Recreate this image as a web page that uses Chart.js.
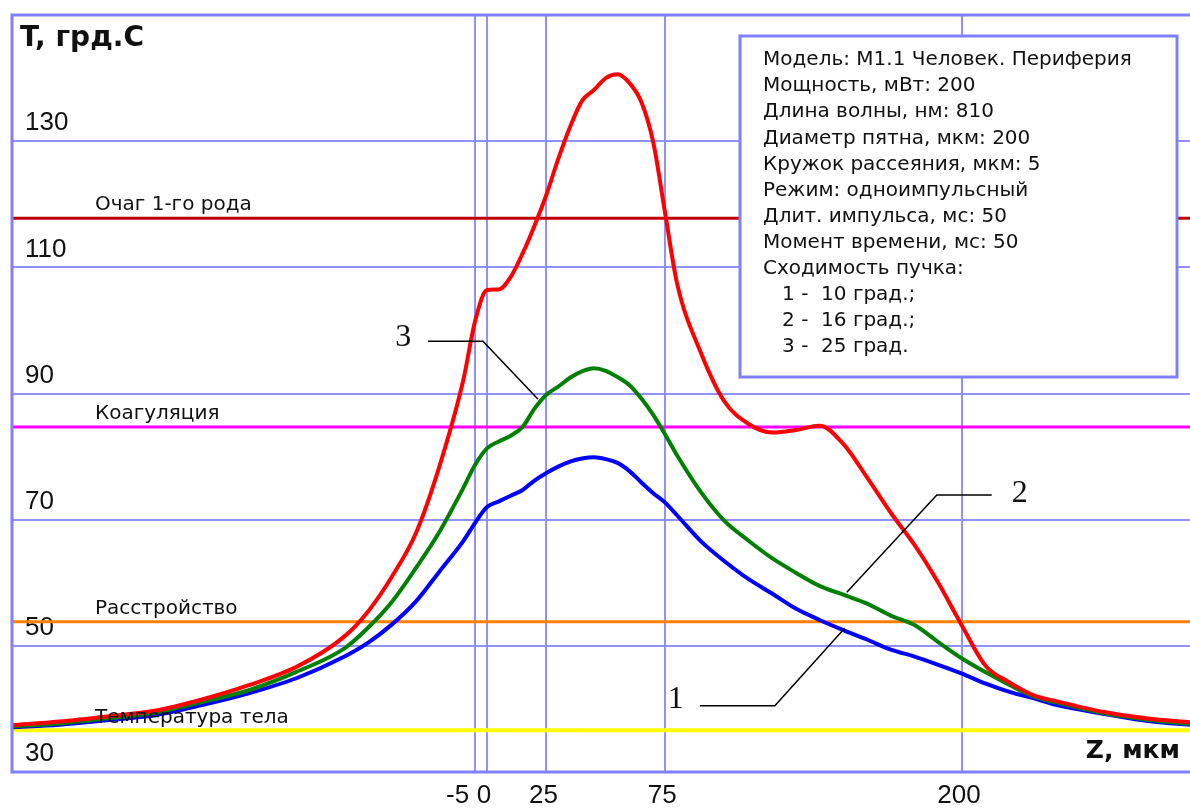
<!DOCTYPE html>
<html lang="ru">
<head>
<meta charset="utf-8">
<title>T, грд.С</title>
<script src="https://cdn.jsdelivr.net/npm/chart.js"></script>
<style>
  html, body { margin:0; padding:0; background:#fff; }
  #wrap { width:1190px; height:808px; position:relative; }
</style>
</head>
<body>
<div id="wrap"><canvas id="chart"></canvas></div>
<script>
const zValues = [-200, -180, -160, -140, -120, -100, -80, -60, -50, -40,
  -30, -20, -10, -5, 0, 5, 10, 15, 20, 25,
  30, 35, 40, 45, 50, 55, 60, 65, 70, 75,
  80, 90, 100, 110, 120, 130, 140, 150, 160, 170,
  180, 190, 200, 210, 220, 230, 240, 260, 280, 296];

// 1 - 10 град.
const tCurve1 = [37.1, 37.5, 38.2, 39.0, 40.6, 42.5, 44.9, 48.3, 50.5, 53.4,
  57.0, 61.8, 66.6, 69.5, 72.0, 72.9, 73.8, 74.7, 76.2, 77.4,
  78.4, 79.2, 79.7, 79.9, 79.6, 79.0, 77.7, 75.9, 74.2, 72.7,
  70.7, 66.6, 63.4, 60.6, 58.3, 55.9, 54.1, 52.5, 51.0, 49.4,
  48.3, 47.0, 45.6, 44.0, 42.7, 41.7, 40.6, 39.2, 38.0, 37.5];

// 2 - 16 град.
const tCurve2 = [37.2, 37.7, 38.5, 39.4, 41.1, 43.0, 45.9, 49.6, 52.9, 57.0,
  62.3, 68.1, 75.0, 78.7, 81.3, 82.4, 83.3, 84.7, 87.6, 89.8,
  91.1, 92.5, 93.5, 94.0, 93.6, 92.6, 91.3, 89.2, 86.6, 83.5,
  80.2, 74.4, 69.8, 66.7, 63.9, 61.6, 59.5, 58.1, 56.7, 54.8,
  53.3, 50.6, 48.0, 45.8, 43.8, 42.0, 41.0, 39.3, 38.2, 37.6];

// 3 - 25 град.
const tCurve3 = [37.4, 38.0, 38.8, 39.7, 41.5, 43.8, 46.7, 51.5, 55.5, 61.0,
  67.8, 78.5, 92.1, 101.5, 106.4, 106.5, 108.5, 112.2, 116.6, 121.5,
  127.2, 132.3, 136.4, 138.1, 140.0, 140.6, 139.2, 136.2, 129.8, 118.6,
  107.5, 96.5, 88.7, 85.2, 83.8, 84.2, 84.9, 82.0, 76.7, 71.1,
  66.0, 60.0, 53.2, 46.8, 44.2, 42.2, 41.2, 39.5, 38.4, 37.9];

const xTicks = [-5, 0, 25, 75, 200];
const yTicks = [30, 50, 70, 90, 110, 130];

const levelNames  = ["Очаг 1-го рода", "Коагуляция", "Расстройство", "Температура тела"];
const levelValues = [117.8, 84.7, 53.8, 36.6];
const levelColors = ["#c00000", "#ff00ff", "#ff8000", "#ffff00"];

const infoLines = [
  "Модель: М1.1 Человек. Периферия",
  "Мощность, мВт: 200",
  "Длина волны, нм: 810",
  "Диаметр пятна, мкм: 200",
  "Кружок рассеяния, мкм: 5",
  "Режим: одноимпульсный",
  "Длит. импульса, мс: 50",
  "Момент времени, мс: 50",
  "Сходимость пучка:",
  "   1 -  10 град.;",
  "   2 -  16 град.;",
  "   3 -  25 град."
];

// curve markers, in data units (z, T)
const leaders = [
  { text: "3", at: [-35.3, 98.8],  path: [[-24.8, 98.3], [-1.7, 98.3], [21.5, 89.1]] },
  { text: "1", at: [79.5, 41.4],   path: [[89.6, 40.5], [121.2, 40.5], [150.6, 52.8]] },
  { text: "2", at: [224.3, 74.2],  path: [[212.5, 73.9], [189.4, 73.9], [151.5, 58.5]] }
];

const GRID = "#9090ff";
const TEXT = "#111";

const pts = arr => zValues.map((z, i) => ({ x: z, y: arr[i] }));

const curves = [
  { data: pts(tCurve3), color: "#ff0000" },
  { data: pts(tCurve2), color: "#008000" },
  { data: pts(tCurve1), color: "#0000ff" }
].map(c => ({
  data: c.data, borderColor: c.color, borderWidth: 4,
  pointRadius: 0, cubicInterpolationMode: "monotone", fill: false
}));

const levels = levelValues.map((v, i) => ({
  data: [{ x: -200, y: v }, { x: 296, y: v }],
  borderColor: levelColors[i], borderWidth: i === 3 ? 4 : 3,
  pointRadius: 0, fill: false
}));

const noPad = s => { s.paddingTop = 0; s.paddingBottom = 0; s.paddingLeft = 0; s.paddingRight = 0; };

const overlay = {
  id: "overlay",
  afterDatasetsDraw(chart) {
    const { ctx, chartArea: a, scales: { x, y } } = chart;
    ctx.save();
    ctx.fillStyle = TEXT;
    ctx.textBaseline = "middle";

    // level captions
    ctx.font = "20px 'DejaVu Sans'";
    ctx.textAlign = "left";
    levelNames.forEach((n, i) => ctx.fillText(n, a.left + 83, y.getPixelForValue(levelValues[i]) - 13));

    // frame
    ctx.strokeStyle = "#8080ff";
    ctx.lineWidth = 3;
    ctx.strokeRect(a.left, a.top, a.right - a.left + 10, a.bottom - a.top);

    // info box
    ctx.fillStyle = "#fff";
    ctx.fillRect(740, 36, 437, 341);
    ctx.strokeRect(740, 36, 437, 341);
    ctx.fillStyle = TEXT;
    ctx.font = "20px 'DejaVu Sans'";
    infoLines.forEach((s, i) => ctx.fillText(s, 763, 60 + i * 26.1));

    // axis titles
    ctx.font = "bold 28px 'DejaVu Sans'";
    ctx.fillText("T, грд.С", a.left + 8, a.top + 24);
    ctx.textAlign = "right";
    ctx.font = "bold 25px 'DejaVu Sans'";
    ctx.fillText("Z, мкм", 1180, 751);

    // x tick labels
    ctx.font = "26px 'Liberation Sans'";
    xTicks.forEach(v => {
      const px = x.getPixelForValue(v);
      if (v < 0) { ctx.textAlign = "right"; ctx.fillText(String(v), px - 6, a.bottom + 24); }
      else { ctx.textAlign = "center"; ctx.fillText(String(v), px - 3, a.bottom + 24); }
    });

    // leaders
    ctx.strokeStyle = "#000";
    ctx.lineWidth = 1.5;
    ctx.font = "32px 'Liberation Serif'";
    ctx.textAlign = "center";
    leaders.forEach(l => {
      ctx.beginPath();
      l.path.forEach(([zx, ty], i) => {
        const px = x.getPixelForValue(zx), py = y.getPixelForValue(ty);
        i ? ctx.lineTo(px, py) : ctx.moveTo(px, py);
      });
      ctx.stroke();
      ctx.fillText(l.text, x.getPixelForValue(l.at[0]), y.getPixelForValue(l.at[1]));
    });
    ctx.restore();
  }
};

new Chart(document.getElementById("chart").getContext("2d"), {
  type: "line",
  data: { datasets: [...curves, ...levels] },
  options: {
    responsive: true,
    maintainAspectRatio: false,
    animation: false,
    layout: { padding: { left: 12, top: 15, right: 0, bottom: 36 } },
    plugins: { legend: { display: false }, tooltip: { enabled: false } },
    scales: {
      x: {
        type: "linear", min: -200, max: 296,
        afterBuildTicks: s => { s.ticks = xTicks.map(v => ({ value: v })); },
        afterFit: s => { s.height = 0; noPad(s); },
        grid: { color: GRID, lineWidth: 2, drawTicks: false },
        border: { display: false },
        ticks: { display: false }
      },
      y: {
        type: "linear", min: 30, max: 150,
        afterBuildTicks: s => { s.ticks = [...yTicks, 150].map(v => ({ value: v })); },
        afterFit: s => { s.width = 0; noPad(s); },
        grid: { color: GRID, lineWidth: 2, drawTicks: false },
        border: { display: false },
        ticks: {
          mirror: true, padding: 13, labelOffset: -18, color: TEXT,
          font: { family: "Liberation Sans", size: 26 },
          callback: v => yTicks.includes(v) ? v : ""
        }
      }
    }
  },
  plugins: [overlay]
});
</script>
</body>
</html>
